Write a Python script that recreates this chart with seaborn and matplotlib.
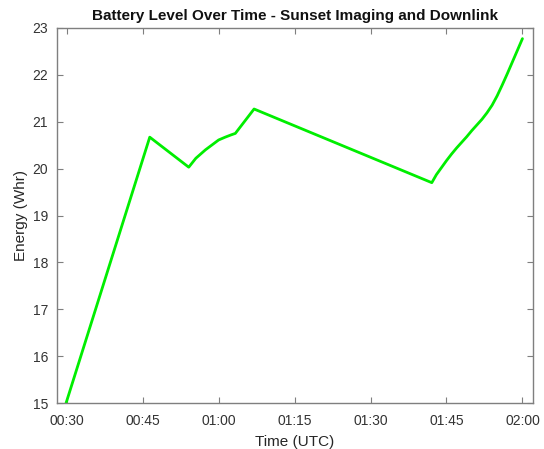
import pandas as pd
import matplotlib.pyplot as plt
import matplotlib.dates as mdates
import seaborn as sns

# minutes after 00:00 UTC and battery energy
minutes = [28.0, 46.4, 54.1, 55.5, 57.4, 60.0, 61.3, 62.5, 63.3, 67.0,
           102.1, 103.0, 104.0, 105.0, 106.0, 107.0, 108.0, 109.0, 110.0, 111.0,
           112.0, 113.0, 114.0, 115.0, 116.0, 117.0, 118.0, 119.0, 120.0]
energy_whr = [14.36, 20.67, 20.03, 20.22, 20.40, 20.61, 20.67, 20.72, 20.75, 21.27,
              19.70, 19.87, 20.02, 20.17, 20.31, 20.44, 20.56, 20.68, 20.81, 20.93,
              21.05, 21.19, 21.35, 21.55, 21.78, 22.02, 22.27, 22.52, 22.77]
x_tick_minutes = [30, 45, 60, 75, 90, 105, 120]
y_ticks = [15, 16, 17, 18, 19, 20, 21, 22, 23]

base = pd.Timestamp("2020-01-01 00:00")
df = pd.DataFrame({
    "time": [base + pd.Timedelta(minutes=m) for m in minutes],
    "energy": energy_whr,
})

sns.set_theme(style="white")
plt.rcParams["font.family"] = ["Liberation Sans", "DejaVu Sans"]

fig = plt.figure(figsize=(5.44, 4.49), dpi=100)
ax = fig.add_axes([0.104, 0.102, 0.875, 0.836])

sns.lineplot(data=df, x="time", y="energy", ax=ax, color="#00ee00", linewidth=2.0)

ax.set_xlim(base + pd.Timedelta(minutes=28), base + pd.Timedelta(minutes=122))
ax.set_ylim(15, 23)
ax.set_xticks([base + pd.Timedelta(minutes=m) for m in x_tick_minutes])
ax.set_yticks(y_ticks)
ax.xaxis.set_major_formatter(mdates.DateFormatter("%H:%M"))

ax.tick_params(direction="in", length=4, width=0.8, color="#7f7f7f",
               labelcolor="#333333", labelsize=10, top=True, right=True,
               bottom=True, left=True)
ax.tick_params(axis="x", pad=8)
ax.tick_params(axis="y", pad=6)
for side in ax.spines.values():
    side.set_color("#7f7f7f")
    side.set_linewidth(1.0)

ax.set_xlabel("Time (UTC)", fontsize=11, color="#262626", labelpad=5)
ax.set_ylabel("Energy (Whr)", fontsize=11, color="#262626", labelpad=3)
ax.set_title("Battery Level Over Time - Sunset Imaging and Downlink",
             fontsize=11, fontweight="bold", color="#111111", pad=6)

fig.savefig("out.png", dpi=100)
